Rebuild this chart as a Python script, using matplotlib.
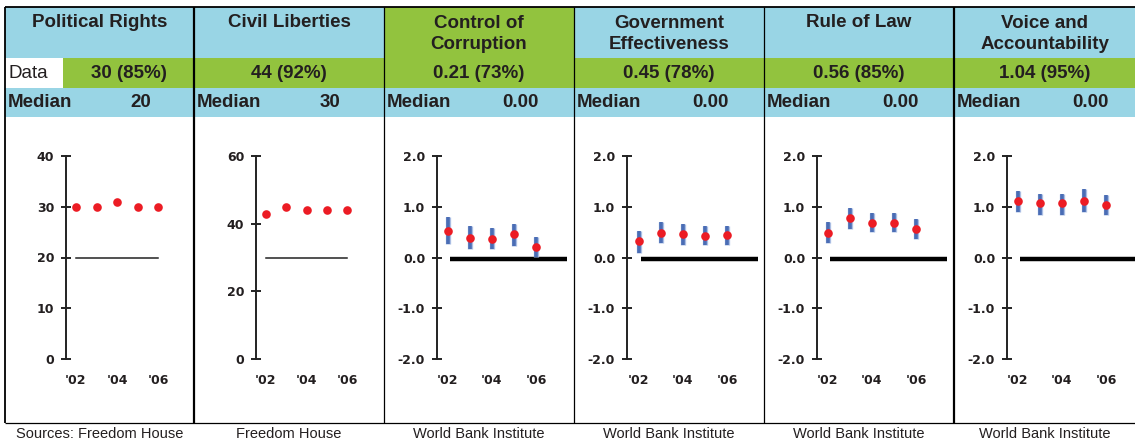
import matplotlib
matplotlib.use("Agg")
import matplotlib.pyplot as plt
from matplotlib.patches import Rectangle

# ---------------- data ----------------
years = [2002, 2003, 2004, 2005, 2006]
year_ticks = [2002, 2004, 2006]
year_labels = ["'02", "'04", "'06"]

titles = ["Political Rights", "Civil Liberties", "Control of\nCorruption",
          "Government\nEffectiveness", "Rule of Law", "Voice and\nAccountability"]
data_texts = ["30 (85%)", "44 (92%)", "0.21 (73%)", "0.45 (78%)", "0.56 (85%)", "1.04 (95%)"]
median_texts = ["20", "30", "0.00", "0.00", "0.00", "0.00"]
sources = ["Sources: Freedom House", "Freedom House", "World Bank Institute",
           "World Bank Institute", "World Bank Institute", "World Bank Institute"]

pr_vals = [30, 30, 31, 30, 30]
pr_median = 20
cl_vals = [43, 45, 44, 44, 44]
cl_median = 30

cc_vals = [0.53, 0.39, 0.36, 0.47, 0.21]
cc_lo = [0.27, 0.16, 0.16, 0.22, 0.01]
cc_hi = [0.80, 0.62, 0.59, 0.66, 0.41]

ge_vals = [0.32, 0.49, 0.46, 0.42, 0.45]
ge_lo = [0.08, 0.28, 0.25, 0.25, 0.25]
ge_hi = [0.52, 0.70, 0.66, 0.62, 0.62]

rl_vals = [0.49, 0.78, 0.68, 0.68, 0.56]
rl_lo = [0.29, 0.57, 0.50, 0.50, 0.37]
rl_hi = [0.70, 0.98, 0.88, 0.88, 0.75]

va_vals = [1.11, 1.07, 1.07, 1.11, 1.04]
va_lo = [0.90, 0.83, 0.83, 0.90, 0.83]
va_hi = [1.31, 1.26, 1.26, 1.34, 1.23]

wbi_median = 0.0

fh_ticks = [[0, 10, 20, 30, 40], [0, 20, 40, 60]]
fh_ticklabels = [["0", "10", "20", "30", "40"], ["0", "20", "40", "60"]]
wbi_ticks = [-2.0, -1.0, 0.0, 1.0, 2.0]
wbi_ticklabels = ["-2.0", "-1.0", "0.0", "1.0", "2.0"]

# ---------------- style / layout ----------------
W, H = 1135, 443
BLUE = "#99d5e5"
GREEN = "#92c33e"
RED = "#ec1c24"
BAR = "#4a6db5"
BAR_LIGHT = "#a9bde3"
TXT = "#231f20"
FONT = "Liberation Sans"

plt.rcParams["font.family"] = [FONT, "DejaVu Sans"]

fig = plt.figure(figsize=(W / 100, H / 100), dpi=100)
fig.patch.set_facecolor("white")

bg = fig.add_axes([0, 0, 1, 1], zorder=0)
bg.set_xlim(0, W)
bg.set_ylim(H, 0)
bg.axis("off")

xs = [5, 194, 384, 574, 764, 954, 1135]
title_top, data_top, med_top, med_bot = 7, 58, 88, 117
bottom_line = 423

title_colors = [BLUE, BLUE, GREEN, BLUE, BLUE, BLUE]

for i in range(6):
    x0, x1 = xs[i], xs[i + 1]
    bg.add_patch(Rectangle((x0, title_top), x1 - x0, data_top - title_top,
                           facecolor=title_colors[i], edgecolor="none"))
    bg.add_patch(Rectangle((x0, data_top), x1 - x0, med_top - data_top,
                           facecolor=GREEN, edgecolor="none"))
    bg.add_patch(Rectangle((x0, med_top), x1 - x0, med_bot - med_top,
                           facecolor=BLUE, edgecolor="none"))
    cx = (x0 + x1) / 2
    bg.text(cx, 34 if "\n" in titles[i] else 22, titles[i], ha="center", va="center",
            fontsize=13.5, fontweight="bold", color=TXT, linespacing=1.3)
    if i == 0:
        bg.add_patch(Rectangle((x0, data_top), 58, med_top - data_top,
                               facecolor="white", edgecolor="none"))
        bg.text(x0 + 3, 73, "Data", ha="left", va="center", fontsize=13.5, color=TXT)
        bg.text((x0 + 58 + x1) / 2, 73, data_texts[i], ha="center", va="center",
                fontsize=13.5, fontweight="bold", color=TXT)
    else:
        bg.text(cx, 73, data_texts[i], ha="center", va="center",
                fontsize=13.5, fontweight="bold", color=TXT)
    bg.text(x0 + 3, 102, "Median", ha="left", va="center", fontsize=13.5,
            fontweight="bold", color=TXT)
    bg.text(x0 + 136, 102, median_texts[i], ha="center", va="center", fontsize=13.5,
            fontweight="bold", color=TXT)
    bg.text(cx, 434, sources[i], ha="center", va="center", fontsize=10.5, color=TXT)

# borders
bg.plot([xs[0], W], [title_top, title_top], color="black", lw=1.3, solid_capstyle="butt")
bg.plot([xs[0], W], [bottom_line, bottom_line], color="black", lw=0.9, solid_capstyle="butt")
vlw = [1.3, 1.6, 0.9, 0.9, 0.9, 1.6]
for i in range(6):
    bg.plot([xs[i], xs[i]], [title_top, bottom_line], color="black", lw=vlw[i],
            solid_capstyle="butt")

# plot axes
axis_x = [66, 256, 437, 627, 817, 1007]
first_x = [76, 266, 448, 639, 828, 1018]
spacing = [20.5, 20.25, 22, 22, 22, 22]
ax_top, ax_bot = 156, 359

series = [
    (pr_vals, None, None, pr_median),
    (cl_vals, None, None, cl_median),
    (cc_vals, cc_lo, cc_hi, wbi_median),
    (ge_vals, ge_lo, ge_hi, wbi_median),
    (rl_vals, rl_lo, rl_hi, wbi_median),
    (va_vals, va_lo, va_hi, wbi_median),
]

for i in range(6):
    left = axis_x[i]
    right = xs[i + 1] - 2
    ax = fig.add_axes([left / W, 1 - ax_bot / H, (right - left) / W, (ax_bot - ax_top) / H],
                      zorder=2)
    ax.patch.set_alpha(0)
    sp = spacing[i]
    ax.set_xlim(years[0] - (first_x[i] - left) / sp, years[0] + (right - first_x[i]) / sp)
    vals, lo, hi, med = series[i]
    if i < 2:
        ax.set_ylim(fh_ticks[i][0], fh_ticks[i][-1])
        ax.set_yticks(fh_ticks[i])
        ax.set_yticklabels(fh_ticklabels[i])
        ax.plot([years[0], years[-1]], [med, med], color="#222222", lw=1.1, zorder=2)
    else:
        ax.set_ylim(wbi_ticks[0], wbi_ticks[-1])
        ax.set_yticks(wbi_ticks)
        ax.set_yticklabels(wbi_ticklabels)
        ax.plot([years[0] + 0.1, years[-1] + 1.4], [med - 0.025, med - 0.025],
                color="black", lw=3.2, solid_capstyle="butt", zorder=2, clip_on=False)
        ax.vlines(years, lo, hi, color=BAR_LIGHT, lw=3.8, zorder=3)
        ax.vlines(years, lo, hi, color=BAR, lw=2.6, zorder=3)
    ax.plot(years, vals, "o", color=RED, ms=6.2, mec="none", zorder=4, clip_on=False)
    for s in ["top", "right", "bottom"]:
        ax.spines[s].set_visible(False)
    ax.spines["left"].set_linewidth(1.4)
    ax.spines["left"].set_color("#222222")
    ax.set_xticks(year_ticks)
    ax.set_xticklabels(year_labels)
    ax.tick_params(axis="x", length=0, pad=11)
    ax.tick_params(axis="y", direction="inout", length=7, width=1.4, color="#222222", pad=5)
    for lab in ax.get_xticklabels() + ax.get_yticklabels():
        lab.set_fontfamily("DejaVu Sans")
        lab.set_fontweight("bold")
        lab.set_fontsize(9)
        lab.set_color(TXT)

fig.savefig("out.png", dpi=100)
